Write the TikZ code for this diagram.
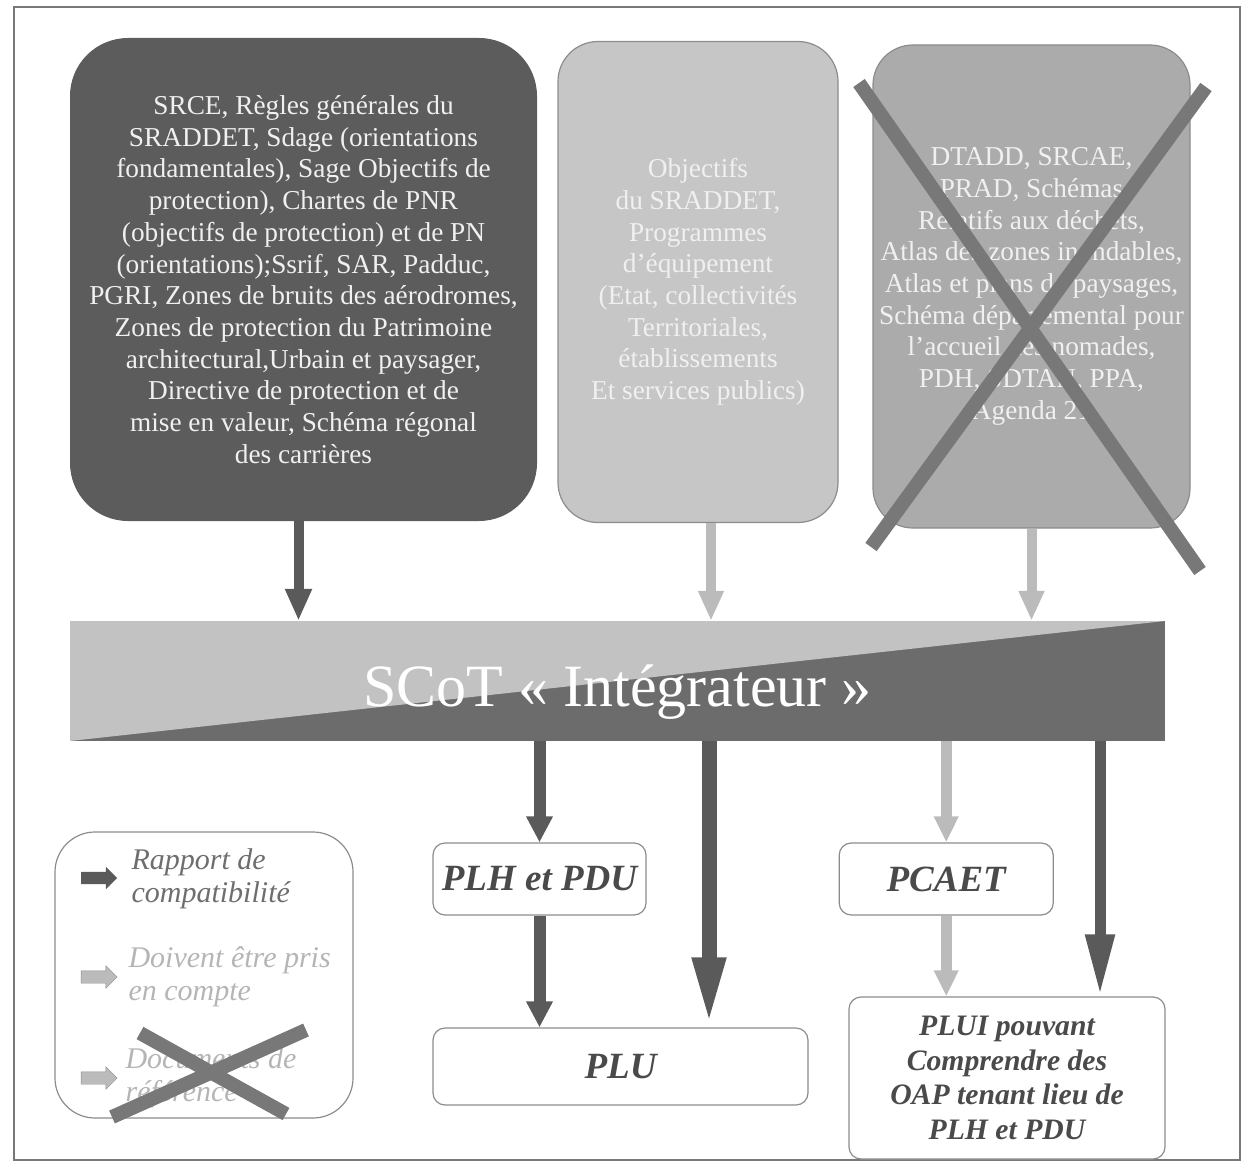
\documentclass[tikz,border=0pt]{standalone}
\usepackage{fontspec}
\setmainfont{Liberation Serif}
\usetikzlibrary{positioning, arrows.meta, shapes.arrows}

\definecolor{darkfill}{HTML}{5C5C5C}
\definecolor{lightfill}{HTML}{C6C6C6}
\definecolor{midfill}{HTML}{ABABAB}
\definecolor{edgegray}{HTML}{8C8C8C}
\definecolor{scotlight}{HTML}{C2C2C2}
\definecolor{scotdark}{HTML}{6C6C6C}
\definecolor{darkarrowcol}{HTML}{5A5A5A}
\definecolor{lightarrowcol}{HTML}{BBBBBB}
\definecolor{crossgray}{HTML}{787878}
\definecolor{boxtext}{HTML}{4A4A4A}
\definecolor{paletext}{HTML}{B5B5B5}

\begin{document}
\begin{tikzpicture}[x=1pt, y=-1pt,
        % styles
        docbox/.style = {
                rectangle, rounded corners=40pt, align=center, inner sep=0pt,
                text=white!94!black,
                font=\fontsize{27.3pt}{31.7pt}\selectfont
            },
        scotband/.style = {
                rectangle, inner sep=0pt, fill=scotdark, text=white,
                minimum width=1095pt, minimum height=120pt,
                font=\fontsize{60pt}{64pt}\selectfont,
                path picture={\fill[scotlight] (path picture bounding box.north west)
                    -- (path picture bounding box.north east)
                    -- (path picture bounding box.south west) -- cycle;}
            },
        planbox/.style = {
                rectangle, rounded corners=12pt, draw=edgegray, line width=1.2pt,
                fill=white, align=center, inner sep=0pt, text=boxtext,
                font=\fontsize{37pt}{42pt}\selectfont\bfseries\itshape
            },
        legarrow/.style = {
                single arrow, inner sep=6pt, minimum height=36pt,
                single arrow head extend=5pt
            },
        legtext/.style = {
                anchor=west, align=left, inner sep=0pt,
                font=\fontsize{30pt}{33pt}\selectfont\itshape
            },
        darkarrow/.style = {
                line width=10pt, draw=darkarrowcol,
                -{Triangle[length=32pt, width=25pt]}
            },
        lightarrow/.style = {
                line width=10pt, draw=lightarrowcol,
                -{Triangle[length=30pt, width=24pt]}
            },
        crossline/.style = {
                line width=14pt, draw=crossgray
            }]

    \useasboundingbox (0,0) rectangle (1242,1164);
    \draw [crossgray, line width=1.5pt] (14,7) rectangle (1240,1160);

    \node (srce) [docbox, fill=darkfill, rounded corners=58pt,
        minimum width=467pt, minimum height=483pt] at (303.5,279.5)
        {SRCE, Règles générales du\\
         SRADDET, Sdage (orientations\\
         fondamentales), Sage Objectifs de\\
         protection), Chartes de PNR\\
         (objectifs de protection) et de PN\\
         (orientations);Ssrif, SAR, Padduc,\\
         PGRI, Zones de bruits des aérodromes,\\
         Zones de protection du Patrimoine\\
         architectural,Urbain et paysager,\\
         Directive de protection et de\\
         mise en valeur, Schéma régonal\\
         des carrières};
    \node (objectifs) [docbox, fill=lightfill, draw=edgegray, line width=1.2pt,
        minimum width=280pt, minimum height=481pt] at (698,282)
        {Objectifs\\ du SRADDET,\\ Programmes\\ d’équipement\\
         (Etat, collectivités\\ Territoriales,\\ établissements\\
         Et services publics)};
    \node (autres) [docbox, fill=midfill, draw=edgegray, line width=1.2pt,
        minimum width=317pt, minimum height=483pt] at (1031.5,286.5)
        {DTADD, SRCAE,\\ PRAD, Schémas\\ Relatifs aux déchets,\\
         Atlas des zones inondables,\\ Atlas et plans de paysages,\\
         Schéma départemental pour\\ l’accueil des nomades,\\
         PDH, SDTAN, PPA,\\ Agenda 21};

    \node (scot) [scotband] at (617.5,681) {\raisebox{-25pt}[0pt][0pt]{SCoT~«~Intégrateur~»}};

    \node (plh) [planbox, minimum width=213pt, minimum height=72pt] at (539.5,879) {PLH et PDU};
    \node (pcaet) [planbox, minimum width=214pt, minimum height=72pt, right=192pt of plh] {PCAET};
    \node (plu) [planbox, minimum width=375pt, minimum height=77pt] at (620.5,1066.5) {PLU};
    \node (plui) [planbox, minimum width=316pt, minimum height=162pt,
        font=\fontsize{29.7pt}{34.5pt}\selectfont\bfseries\itshape] at (1007,1078)
        {PLUI pouvant\\ Comprendre des\\ OAP tenant lieu de\\ PLH et PDU};

    % legend
    \node (legend) [rectangle, rounded corners=40pt, draw=edgegray, line width=1.2pt,
        minimum width=298pt, minimum height=286pt] at (204,975) {};
    \node (arrcompat) [legarrow, fill=darkarrowcol] at (96,878) {};
    \node (arrprise) [legarrow, fill=lightarrowcol, draw=edgegray] at (96,977) {};
    \node (arrref) [legarrow, fill=lightarrowcol, draw=edgegray] at (96,1078) {};
    \node (legcompat) [legtext, text=boxtext!80!white, right=14pt of arrcompat, yshift=-1pt]
        {Rapport de\\compatibilité};
    \node (legprise) [legtext, text=paletext, right=11pt of arrprise]
        {Doivent être pris\\en compte};
    \node (legref) [legtext, text=paletext, right=8pt of arrref]
        {Documents de\\référence};

    % arrows
    \coordinate (srce_out) at ([xshift=-5pt]srce.south);
    \coordinate (obj_out) at ([xshift=13pt]objectifs.south);
    \coordinate (plu_in) at ([xshift=88.5pt]plu.north);
    \coordinate (plui_in) at ([xshift=93pt]plui.north);
    \draw [darkarrow] (srce_out) -- (srce_out |- scot.north);
    \draw [lightarrow] (obj_out) -- (obj_out |- scot.north);
    \draw [lightarrow] (autres.south) -- (autres.south |- scot.north);
    \draw [darkarrow, line width=12pt, -{Triangle[length=26pt, width=25pt]}] (plh.north |- scot.south) -- (plh.north);
    \draw [darkarrow, line width=15pt, -{Triangle[length=70pt, width=30pt]}] (plu_in |- scot.south) -- (plu_in);
    \draw [lightarrow, line width=11pt, -{Triangle[length=26pt, width=23pt]}] (pcaet.north |- scot.south) -- (pcaet.north);
    \draw [darkarrow, line width=11pt, -{Triangle[length=62pt, width=27pt]}] (plui_in |- scot.south) -- (plui_in);
    \draw [darkarrow, line width=12pt, -{Triangle[length=26pt, width=25pt]}] (plh.south) -- (plh.south |- plu.north);
    \draw [lightarrow, line width=11pt, -{Triangle[length=26pt, width=23pt]}] (pcaet.south) -- (pcaet.south |- plui.north);

    % crosses
    \draw [crossline] (859,83) -- (1200,571);
    \draw [crossline] (1206,87) -- (871,547);
    \draw [crossline] (140,1033) -- (286,1114);
    \draw [crossline] (306,1030) -- (112,1117);
\end{tikzpicture}
\end{document}
